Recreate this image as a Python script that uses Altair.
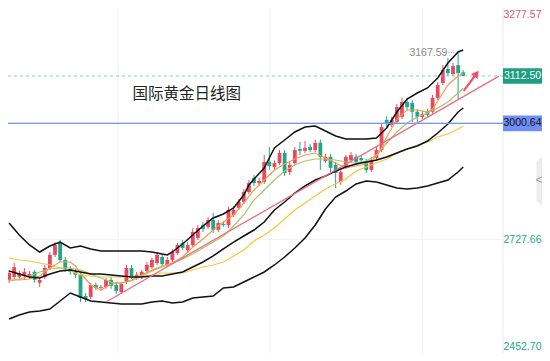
import altair as alt
import pandas as pd

# ---------------- data ----------------
day = list(range(90))
open_ = [2632, 2639, 2639, 2641, 2639, 2651, 2625, 2639, 2660, 2691,
         2719, 2679, 2658, 2651, 2644, 2594, 2592, 2620, 2613, 2615,
         2632, 2620, 2603, 2627, 2660, 2636, 2639, 2653, 2662, 2672,
         2686, 2667, 2679, 2695, 2719, 2702, 2714, 2731, 2761, 2757,
         2773, 2750, 2764, 2761, 2785, 2801, 2816, 2839, 2872, 2860,
         2863, 2910, 2898, 2907, 2931, 2886, 2907, 2940, 2936, 2945,
         2938, 2955, 2912, 2922, 2903, 2863, 2898, 2914, 2922, 2919,
         2910, 2891, 2919, 2938, 3009, 2997, 3004, 3016, 3051, 3049,
         3028, 3016, 3028, 3028, 3061, 3096, 3129, 3117, 3138, 3121]
high = [2655, 2672, 2653, 2660, 2653, 2655, 2636, 2667, 2698, 2721,
        2726, 2686, 2665, 2658, 2648, 2601, 2625, 2625, 2620, 2636,
        2639, 2625, 2627, 2667, 2667, 2651, 2655, 2674, 2684, 2698,
        2691, 2686, 2705, 2719, 2726, 2721, 2754, 2761, 2768, 2780,
        2790, 2773, 2771, 2804, 2806, 2823, 2846, 2867, 2879, 2872,
        2926, 2945, 2914, 2938, 2938, 2910, 2945, 2957, 2959, 2952,
        2962, 2962, 2929, 2929, 2910, 2893, 2926, 2933, 2929, 2926,
        2917, 2922, 2945, 2999, 3018, 3016, 3046, 3061, 3061, 3056,
        3035, 3030, 3035, 3068, 3098, 3138, 3155, 3143, 3167.59, 3126]
low = [2625, 2634, 2634, 2632, 2634, 2625, 2615, 2634, 2655, 2686,
       2674, 2651, 2644, 2636, 2580, 2580, 2587, 2608, 2608, 2611,
       2611, 2599, 2599, 2622, 2634, 2632, 2634, 2648, 2658, 2667,
       2665, 2662, 2674, 2691, 2702, 2695, 2710, 2726, 2745, 2752,
       2742, 2745, 2757, 2754, 2780, 2797, 2811, 2834, 2853, 2853,
       2858, 2891, 2891, 2903, 2877, 2879, 2903, 2926, 2931, 2933,
       2933, 2891, 2907, 2886, 2848, 2856, 2893, 2910, 2903, 2907,
       2884, 2886, 2912, 2933, 2990, 2992, 2999, 3011, 3032, 3004,
       3004, 3011, 3016, 3023, 3056, 3091, 3112, 3112, 3058, 3112]
close = [2648, 2662, 2648, 2651, 2646, 2632, 2632, 2660, 2691, 2714,
         2679, 2658, 2651, 2644, 2589, 2587, 2620, 2613, 2615, 2632,
         2618, 2606, 2622, 2660, 2641, 2644, 2651, 2667, 2679, 2691,
         2669, 2679, 2698, 2714, 2707, 2714, 2745, 2754, 2752, 2773,
         2750, 2766, 2761, 2797, 2797, 2816, 2839, 2860, 2860, 2865,
         2910, 2900, 2907, 2931, 2884, 2903, 2938, 2936, 2943, 2938,
         2955, 2922, 2922, 2896, 2884, 2886, 2922, 2926, 2910, 2914,
         2891, 2914, 2938, 2992, 2999, 3009, 3039, 3051, 3039, 3028,
         3016, 3023, 3021, 3061, 3091, 3126, 3119, 3136, 3119, 3112.5]

even_i = list(range(0, 89, 2)) + [89]

boll_up_i = [0, 2, 4, 6, 8, 10, 12, 14, 16, 18, 20, 22, 24, 26, 28, 30, 31, 32, 34, 36,
             38, 40, 42, 44, 46, 47, 48, 50, 52, 54, 56, 58, 60, 62, 64, 66, 68, 70, 72, 73,
             74, 76, 78, 80, 82, 84, 86, 88, 89]
boll_up = [2766.0, 2737.7, 2714.2, 2697.7, 2711.8, 2721.2, 2707.1, 2711.8, 2704.8, 2700.0,
           2700.0, 2700.0, 2700.0, 2700.0, 2697.7, 2693.0, 2690.6, 2697.7, 2716.5, 2737.7,
           2758.9, 2777.8, 2787.2, 2801.4, 2832.0, 2855.5, 2869.7, 2895.6, 2942.7, 2961.6,
           2980.4, 2992.2, 2994.5, 2982.8, 2971.0, 2963.9, 2963.9, 2963.9, 2966.3, 2978.1,
           2989.8, 3027.5, 3058.2, 3072.3, 3084.1, 3107.6, 3143.0, 3168.9, 3173.6]
boll_mid = [2652.9, 2645.9, 2638.8, 2636.4, 2645.9, 2652.9, 2655.3, 2650.6, 2645.9, 2645.9,
            2643.5, 2641.1, 2638.8, 2638.8, 2641.1, 2641.1, 2645.9, 2650.6, 2662.3, 2674.1,
            2688.3, 2704.8, 2721.2, 2735.4, 2749.5, 2768.4, 2796.6, 2815.5, 2836.7, 2853.2,
            2867.3, 2876.7, 2888.5, 2897.9, 2905.0, 2909.7, 2914.4, 2921.5, 2930.9, 2940.4,
            2947.4, 2959.2, 2978.1, 2999.3, 3027.5, 3036.9]
boll_low = [2539.8, 2549.3, 2556.3, 2558.7, 2563.4, 2582.2, 2601.1, 2591.7, 2582.2, 2579.9,
            2577.5, 2575.2, 2575.2, 2575.2, 2579.9, 2582.2, 2577.5, 2579.9, 2589.3, 2591.7,
            2594.0, 2612.9, 2615.2, 2627.0, 2638.8, 2650.6, 2667.1, 2685.9, 2707.1, 2730.7,
            2761.3, 2799.0, 2827.3, 2841.4, 2857.9, 2865.0, 2862.6, 2855.5, 2848.5, 2846.1,
            2848.5, 2853.2, 2860.2, 2867.3, 2886.2, 2897.9]
ma_long = [2683.5, 2678.8, 2676.5, 2671.8, 2667.1, 2660.0, 2652.9, 2643.5, 2641.1, 2638.8,
           2638.8, 2638.8, 2638.8, 2641.1, 2643.5, 2648.2, 2648.2, 2648.2, 2655.3, 2662.3,
           2667.1, 2674.1, 2688.3, 2702.4, 2723.6, 2737.7, 2754.2, 2775.4, 2796.6, 2813.1,
           2829.6, 2846.1, 2857.9, 2869.7, 2888.5, 2897.9, 2907.4, 2916.8, 2930.9, 2940.4,
           2949.8, 2956.9, 2968.6, 2975.7, 2987.5, 2994.5]
ma10 = [2629.4, 2634.1, 2641.1, 2650.6, 2657.6, 2660.0, 2660.0, 2655.3, 2645.9, 2636.4,
        2627.0, 2624.7, 2629.4, 2641.1, 2652.9, 2662.3, 2671.8, 2681.2, 2693.0, 2707.1,
        2721.2, 2735.4, 2758.9, 2784.9, 2820.2, 2843.8, 2867.3, 2888.5, 2902.7, 2912.1,
        2916.8, 2916.8, 2914.4, 2909.7, 2907.4, 2912.1, 2926.2, 2954.5, 2980.4, 3001.6,
        3015.7, 3025.2, 3036.9, 3051.1, 3072.3, 3084.1]
ma5_i = [0, 2, 4, 6, 8, 10, 12, 13, 14, 16, 18, 20, 22, 24, 26, 28, 30, 32, 34, 36,
         38, 40, 42, 44, 46, 48, 50, 52, 54, 56, 58, 60, 62, 64, 66, 68, 70, 72, 73, 74,
         76, 78, 80, 82, 83, 84, 86, 88, 89]
ma5 = [2631.7, 2631.7, 2634.1, 2641.1, 2660.0, 2674.1, 2674.1, 2664.7, 2648.2, 2620.0,
       2608.2, 2622.3, 2624.7, 2631.7, 2643.5, 2655.3, 2664.7, 2671.8, 2685.9, 2709.5,
       2728.3, 2749.5, 2768.4, 2784.9, 2813.1, 2843.8, 2867.3, 2890.9, 2905.0, 2916.8,
       2926.2, 2930.9, 2919.2, 2907.4, 2895.6, 2900.3, 2905.0, 2923.9, 2942.7, 2968.6,
       3011.0, 3032.2, 3032.2, 3027.5, 3034.6, 3053.4, 3091.1, 3112.3, 3119.4]

trend_i = [19, 96]
trend_v = [2580, 3112]
arrow_i = [89.2, 91.3]
arrow_v = [3079, 3113]
arrow_head_i = [91.6]
arrow_head_v = [3118]

grid_days = [21.35, 51.15, 80.96]
grid_prices = [2727.66, 3002.62]
axis_prices = [3277.57, 2727.66, 2452.70]
axis_texts = ["3277.57", "2727.66", "2452.70"]
last_price = 3112.50
support_price = 3000.64
high_price = 3167.59
title_text = "国际黄金日线图"

# ---------------- chart ----------------
W, H = 534, 345
PLOT_R = 495
LAB_X = 514.5
LAB_FS = 10.5
xs = alt.Scale(domain=[0.769, 103.46], nice=False, zero=False)
ys = alt.Scale(domain=[2459.73, 3272.55], nice=False, zero=False)

RED = "#e8495e"
TEAL = "#22a68b"
BLUE = "#7696ff"
NUM_FONT = "Liberation Sans"


def X(f):
    return alt.X(f, type="quantitative", scale=xs, axis=None)


def Y(f):
    return alt.Y(f, type="quantitative", scale=ys, axis=None)


candles = pd.DataFrame({"i": day, "o": open_, "h": high, "l": low, "c": close})
candles["lo"] = candles[["o", "c"]].min(axis=1)
candles["hi"] = candles[["o", "c"]].max(axis=1)
up = candles[candles["c"] >= candles["o"]]
down = candles[candles["c"] < candles["o"]]


def candle_layers(df, col):
    w = alt.Chart(df).mark_rule(strokeWidth=1, clip=True, color=col).encode(
        x=X("i"), y=Y("l"), y2=alt.Y2("h"))
    b = alt.Chart(df).mark_bar(size=3.8, clip=True, color=col).encode(
        x=X("i"), y=Y("lo"), y2=alt.Y2("hi"))
    return [w, b]


def line_layer(i_list, v_list, col, sw):
    return alt.Chart(pd.DataFrame({"i": i_list, "v": v_list})).mark_line(
        strokeWidth=sw, color=col, clip=True).encode(x=X("i"), y=Y("v"))


def label_text(value, text, col, dy):
    return alt.Chart(pd.DataFrame({"v": [value], "t": [text]})).mark_text(
        font=NUM_FONT, fontSize=LAB_FS, color=col, align="center", baseline="middle", dy=dy).encode(
        y=Y("v"), x=alt.value(LAB_X), text="t:N")


vgrid = alt.Chart(pd.DataFrame({"i": grid_days})).mark_rule(color="#f0f0f2", strokeWidth=1).encode(
    x=X("i"), y=alt.value(0), y2=alt.value(H))
hgrid = alt.Chart(pd.DataFrame({"v": grid_prices})).mark_rule(color="#f0f0f2", strokeWidth=1).encode(
    y=Y("v"), x=alt.value(0), x2=alt.value(PLOT_R))
border = alt.Chart(pd.DataFrame({"v": [0]})).mark_rule(color="#e8e8ea", strokeWidth=1).encode(
    x=alt.value(PLOT_R), y=alt.value(0), y2=alt.value(H))

ma_layers = [
    line_layer(even_i, ma_long, "#f6c83a", 1.2),
    line_layer(even_i, ma10, "#a9c46a", 1.2),
    line_layer(ma5_i, ma5, "#f59a4e", 1.2),
]
band_layers = [
    line_layer(boll_up_i, boll_up, "#111111", 1.5),
    line_layer(even_i, boll_mid, "#111111", 1.5),
    line_layer(even_i, boll_low, "#111111", 1.5),
]
trend = line_layer(trend_i, trend_v, "#f26b7e", 1.3)

last_line = alt.Chart(pd.DataFrame({"v": [last_price]})).mark_rule(
    color="#7fd3c0", strokeWidth=1, strokeDash=[3, 3]).encode(y=Y("v"), x=alt.value(0), x2=alt.value(PLOT_R))
sup_line = alt.Chart(pd.DataFrame({"v": [support_price]})).mark_rule(
    color=BLUE, strokeWidth=1.4).encode(y=Y("v"), x=alt.value(0), x2=alt.value(PLOT_R))

BOX = "M-1,-0.4L1,-0.4L1,0.4L-1,0.4Z"
BOX_SIZE = 1521
last_box = alt.Chart(pd.DataFrame({"v": [last_price]})).mark_point(
    shape=BOX, filled=True, opacity=1, size=BOX_SIZE, color="#1e9f83").encode(y=Y("v"), x=alt.value(LAB_X))
sup_box = alt.Chart(pd.DataFrame({"v": [support_price]})).mark_point(
    shape=BOX, filled=True, opacity=1, size=BOX_SIZE, color="#6f8ff7").encode(y=Y("v"), x=alt.value(LAB_X))
last_txt = label_text(last_price, "3112.50", "white", 0)
sup_txt = label_text(support_price, "3000.64", "#111111", 0)
top_txt = label_text(axis_prices[0], axis_texts[0], "#e0566c", 9)
mid_txt = label_text(axis_prices[1], axis_texts[1], TEAL, 1)
bot_txt = label_text(axis_prices[2], axis_texts[2], TEAL, -9)

hi_txt = alt.Chart(pd.DataFrame({"i": [85.9], "v": [high_price], "t": ["3167.59"]})).mark_text(
    font=NUM_FONT, fontSize=10.5, color="#8a8a8a", align="right", baseline="middle").encode(
    x=X("i"), y=Y("v"), text="t:N")
hi_dots = alt.Chart(pd.DataFrame({"i": [86.1], "i2": [87.8], "v": [high_price]})).mark_rule(
    color="#9a9a9a", strokeWidth=1, strokeDash=[1, 1.5]).encode(x=X("i"), x2="i2", y=Y("v"))

title = alt.Chart(pd.DataFrame({"i": [24.2], "v": [3069.9], "t": [title_text]})).mark_text(
    font="Noto Sans CJK SC", fontSize=15.5, color="#222222", align="left", baseline="middle").encode(
    x=X("i"), y=Y("v"), text="t:N")

arrow = alt.Chart(pd.DataFrame({"i": arrow_i, "v": arrow_v})).mark_line(
    color="#f0506a", strokeWidth=2.2, strokeCap="round").encode(x=X("i"), y=Y("v"))
arrow_head = alt.Chart(pd.DataFrame({"i": arrow_head_i, "v": arrow_head_v})).mark_point(
    shape="triangle-up", filled=True, opacity=1, size=70, angle=37, color="#f0506a").encode(
    x=X("i"), y=Y("v"))

TAB = "M-0.27,-0.82L-0.06,-1L0.3,-1L0.3,1L-0.06,1L-0.27,0.82Z"
tab = alt.Chart(pd.DataFrame({"v": [0]})).mark_point(
    shape=TAB, filled=True, opacity=1, size=2304, color="#ebebf0").encode(x=alt.value(535), y=alt.value(173))
tab_txt = alt.Chart(pd.DataFrame({"t": ["<"]})).mark_text(
    font=NUM_FONT, fontSize=12, color="#9a9aa5", align="center", baseline="middle").encode(
    x=alt.value(531), y=alt.value(172), text="t:N")

layers = ([vgrid, hgrid, border]
          + candle_layers(up, RED) + candle_layers(down, TEAL)
          + ma_layers + band_layers + [trend, last_line, sup_line, last_box, last_txt, sup_box, sup_txt,
                                       top_txt, mid_txt, bot_txt, hi_txt, hi_dots, title, arrow, arrow_head,
                                       tab, tab_txt])

chart = alt.layer(*layers).properties(
    width=W, height=H, autosize=alt.AutoSizeParams(type="none"), padding=0, background="white"
).configure_view(stroke=None)

chart.save("out.html", embed_options={"renderer": "svg", "actions": False})
